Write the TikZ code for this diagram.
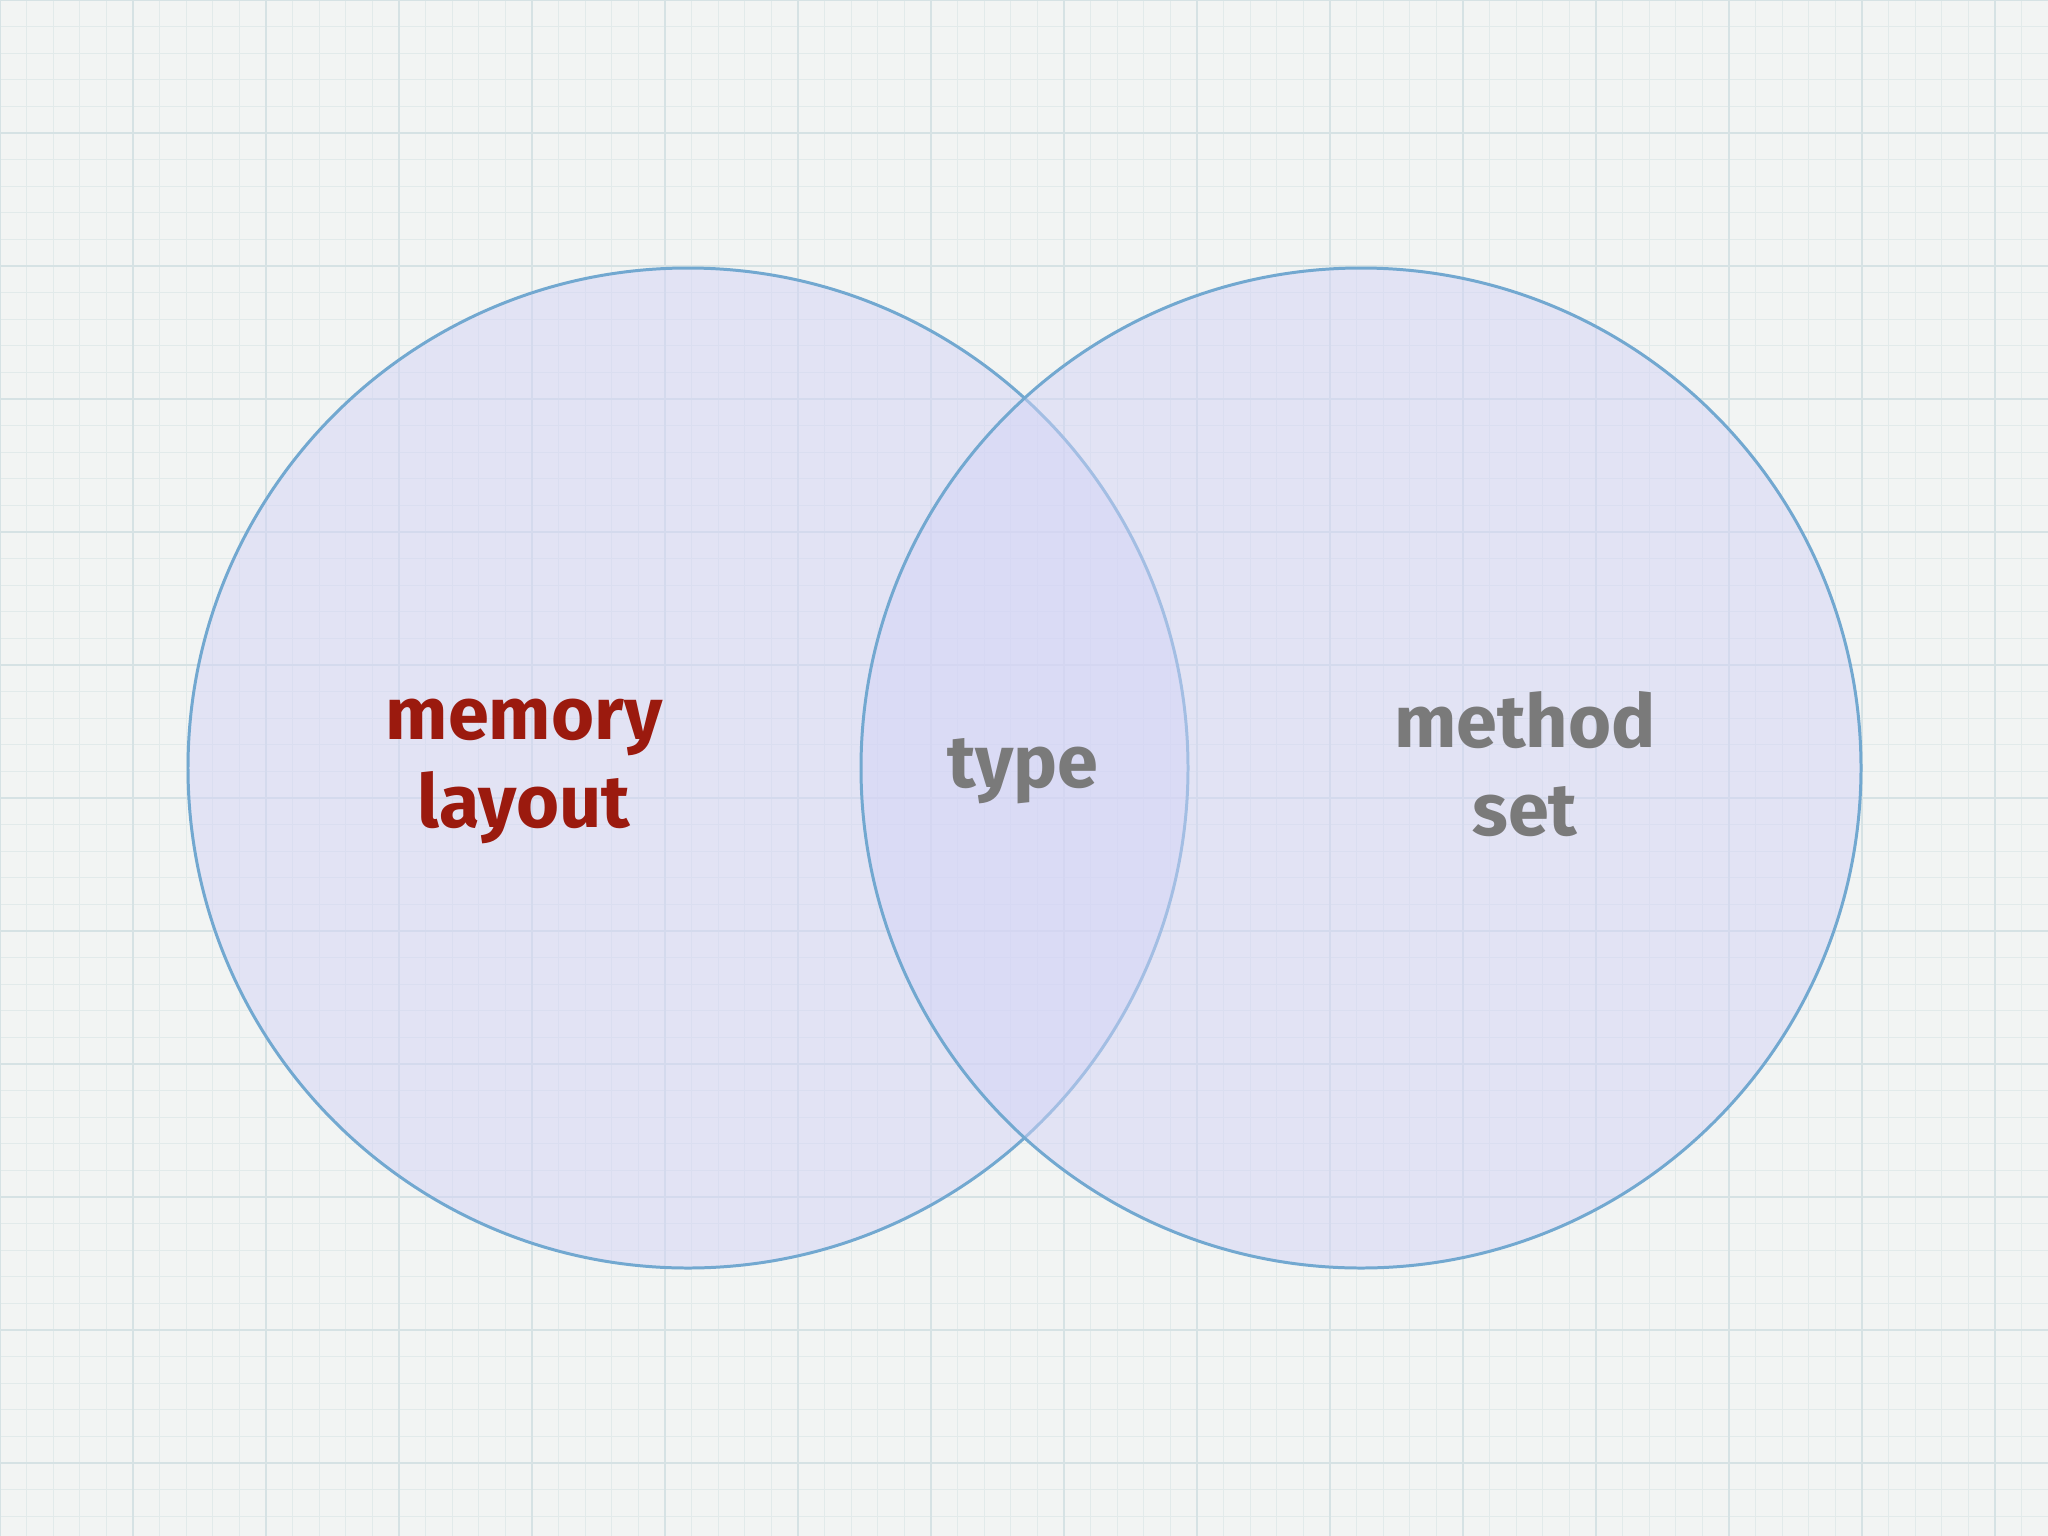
\documentclass[tikz,border=0pt]{standalone}
\usepackage{fontspec}
\setmainfont{Fira Sans}
\definecolor{bg}{HTML}{F2F4F3}
\definecolor{gridc}{HTML}{E2EAEA}
\definecolor{gridm}{HTML}{D6E2E4}
\definecolor{ring}{HTML}{72A8D0}
\definecolor{fillc}{HTML}{D4D4F6}
\definecolor{redt}{HTML}{9B1A0E}
\definecolor{grayt}{HTML}{7A7A7A}
\tikzset{venn/.style={draw=ring,line width=0.85pt,fill=fillc,fill opacity=0.5},
lbl/.style={font=\fontsize{21}{25}\selectfont\bfseries,align=center,text opacity=1}}
\begin{document}
\begin{tikzpicture}[x=0.01cm,y=0.01cm]
\useasboundingbox (0,-1536) rectangle (2048,0);
\fill[bg] (0,-1536) rectangle (2048,0);
\foreach \i in {0,...,77} {
  \draw[gridc,line width=0.3pt] (\i*26.6,-1536) -- (\i*26.6,0);
}
\foreach \i in {0,...,58} {
  \draw[gridc,line width=0.3pt] (0,-\i*26.6) -- (2048,-\i*26.6);
}
\foreach \i in {0,...,15} {
  \draw[gridm,line width=0.5pt] (\i*133,-1536) -- (\i*133,0);
}
\foreach \i in {0,...,11} {
  \draw[gridm,line width=0.5pt] (0,-\i*133) -- (2048,-\i*133);
}
\path[venn] (688,-768) circle (500);
\path[venn] (1361,-768) circle (500);
\node[lbl,text=redt] (mem) at (524,-771) {memory\\layout};
\node[lbl,text=grayt] (typ) at (1023,-771) {type};
\node[lbl,text=grayt] (met) at (1525,-764) {method\\set};
\end{tikzpicture}
\end{document}
